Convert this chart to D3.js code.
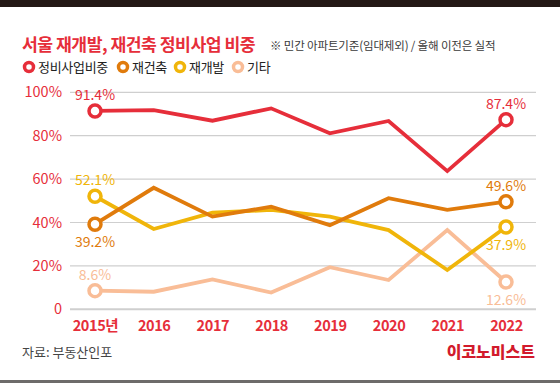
<!DOCTYPE html>
<html><head><meta charset="utf-8">
<script src="https://cdn.jsdelivr.net/npm/d3@7"></script>
<style>
html,body{margin:0;padding:0;background:#fff;}
svg{display:block;font-family:"Noto Sans CJK KR","Noto Sans",sans-serif;}
</style></head><body>
<svg id="c" width="560" height="383"></svg>
<script>
const years = ["2015년","2016","2017","2018","2019","2020","2021","2022"];
const seriesNames = ["정비사업비중","재건축","재개발","기타"];
const total = [91.4, 91.8, 86.9, 92.6, 81.1, 86.8, 63.7, 87.4];
const rebuild = [39.2, 56.0, 42.7, 47.3, 38.8, 51.2, 45.8, 49.6];
const redevelop = [52.1, 37.0, 44.5, 45.8, 42.7, 36.5, 18.1, 37.9];
const etc = [8.6, 8.1, 13.8, 7.7, 19.4, 13.5, 36.5, 12.6];
const yTicks = [0, 20, 40, 60, 80, 100];
const colors = ["#e62e3a", "#e07b0c", "#f0b50a", "#f9bd97"];
const seriesData = [total, rebuild, redevelop, etc];
// label placement for endpoints: -1 above, +1 below
const labelPos = [[-1,-1],[1,-1],[-1,1],[-1,1]];

const svg = d3.select("#c");
svg.append("rect").attr("x",0).attr("y",0).attr("width",560).attr("height",7).attr("fill","#231815");
svg.append("rect").attr("x",0).attr("y",380).attr("width",560).attr("height",3).attr("fill","#6d6b6a");

svg.append("text").attr("x",22).attr("y",51).attr("fill","#e62e3a")
  .attr("font-size",17.2).attr("font-weight",700).attr("letter-spacing",-0.5)
  .text("서울 재개발, 재건축 정비사업 비중");
svg.append("text").attr("x",270).attr("y",50).attr("fill","#3a3a3a")
  .attr("font-size",11.5).attr("letter-spacing",-0.15).text("※ 민간 아파트기준(임대제외) / 올해 이전은 실적");

// legend
const legX = [29, 123, 180, 238];
seriesNames.forEach((n,i)=>{
  svg.append("circle").attr("cx",legX[i]).attr("cy",67).attr("r",4.5)
    .attr("fill","#fff").attr("stroke",colors[i]).attr("stroke-width",3.5);
  svg.append("text").attr("x",legX[i]+9).attr("y",72).attr("fill","#222")
    .attr("font-size",13).attr("letter-spacing",-0.3).text(n);
});

const x = d3.scalePoint().domain(years).range([95, 506]);
const y = d3.scaleLinear().domain([0,100]).range([309.3, 92.3]);

const grid = svg.append("g");
yTicks.forEach(t=>{
  grid.append("line").attr("x1",70).attr("x2",536).attr("y1",y(t)).attr("y2",y(t))
    .attr("stroke", "#cfcfcf").attr("stroke-width", t===0?2:1.2);
});

const yAxis = svg.append("g").attr("transform","translate(62,0)")
  .call(d3.axisLeft(y).tickValues(yTicks).tickSize(0).tickPadding(0)
    .tickFormat(d=> d===0 ? "0" : d+"%"));
yAxis.select(".domain").remove();
yAxis.selectAll("text").attr("fill","#e62e3a").attr("font-size",14.5)
  .attr("font-family","'Noto Sans CJK KR',sans-serif");

const xAxis = svg.append("g").attr("transform","translate(0,318)")
  .call(d3.axisBottom(x).tickSize(0).tickPadding(0));
xAxis.select(".domain").remove();
xAxis.selectAll("text").attr("fill","#e62e3a").attr("font-size",14.5).attr("font-weight",700)
  .attr("letter-spacing",-0.4)
  .attr("dy","0.9em").attr("font-family","'Noto Sans CJK KR',sans-serif");

const line = d3.line().x((d,i)=>x(years[i])).y(d=>y(d));
// draw order: etc, redevelop, rebuild, total
[3,2,1,0].forEach(k=>{
  svg.append("path").datum(seriesData[k]).attr("d",line).attr("fill","none")
    .attr("stroke",colors[k]).attr("stroke-width",3.8).attr("stroke-linejoin","miter");
});
[3,2,1,0].forEach(k=>{
  const d = seriesData[k];
  [0, d.length-1].forEach((idx,j)=>{
    const cx = x(years[idx]), cy = y(d[idx]);
    svg.append("circle").attr("cx",cx).attr("cy",cy).attr("r",6)
      .attr("fill","#fff").attr("stroke",colors[k]).attr("stroke-width",3.5);
    const p = labelPos[k][j];
    svg.append("text").attr("x",cx).attr("y", p<0 ? cy-11 : cy+23)
      .attr("text-anchor","middle").attr("fill",colors[k]).attr("font-size",14)
      .text(d[idx].toFixed(1)+"%");
  });
});

svg.append("text").attr("x",22).attr("y",357).attr("fill","#444").attr("font-size",13)
  .text("자료: 부동산인포");
svg.append("text").attr("x",535).attr("y",358).attr("text-anchor","end").attr("fill","#d21a2c")
  .attr("font-size",16).attr("font-weight",900).text("이코노미스트");
</script>
</body></html>
